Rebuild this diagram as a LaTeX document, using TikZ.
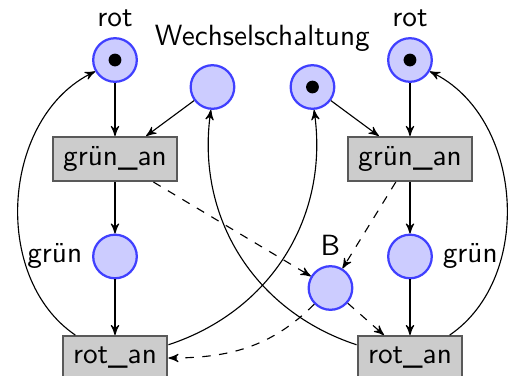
\documentclass[tikz,border=0pt]{standalone}
\usetikzlibrary{petri,arrows}
\tikzset{
  place/.style={circle,draw=blue!75,fill=blue!20,thick,minimum size=5.45mm,inner sep=0pt},
  transition/.style={rectangle,draw=black!65,fill=black!20,thick,minimum height=5.45mm,inner xsep=1.3mm},
  every token/.append style={minimum size=1.6mm}
}
\begin{document}
\begin{tikzpicture}[>=stealth',font=\fontsize{10.4pt}{12pt}\sffamily]
  \useasboundingbox (0,0) rectangle (6.425,-4.7);
  % Places
  \node[place,tokens=1,label=above:rot] (rotL) at (1.4375,-0.75) {};
  \node[place] (wsL) at (2.656,-1.0875) {};
  \node[place,tokens=1] (wsR) at (3.906,-1.0875) {};
  \node[place,tokens=1,label=above:rot] (rotR) at (5.125,-0.75) {};
  \node[anchor=base] (ws) at (3.28,-0.5625) {Wechselschaltung};
  \node[place,label=left:grün] (gL) at (1.4375,-3.206) {};
  \node[place,label=right:grün] (gR) at (5.125,-3.206) {};
  \node[place,label=above:B] (B) at (4.131,-3.6) {};
  % Transitions
  \node[transition] (gaL) at (1.4375,-1.9875) {grün\_an};
  \node[transition] (gaR) at (5.125,-1.9875) {grün\_an};
  \node[transition] (raL) at (1.4375,-4.475) {rot\_an};
  \node[transition] (raR) at (5.125,-4.475) {rot\_an};
  % Arcs
  \draw[->] (rotL) -- (gaL);
  \draw[->] (wsL) -- (gaL);
  \draw[->] (wsR) -- (gaR);
  \draw[->] (rotR) -- (gaR);
  \draw[->] (gaL) -- (gL);
  \draw[->] (gL) -- (raL);
  \draw[->] (gaR) -- (gR);
  \draw[->] (gR) -- (raR);
  \draw[->] (raL) to[bend left=60] (rotL);
  \draw[->] (raR) to[bend right=60] (rotR);
  \draw[->] (raL) to[bend right=40] (wsR);
  \draw[->] (raR) to[bend left=40] (wsL);
  % Arcs through B
  \draw[->,dashed] (gaL) -- (B);
  \draw[->,dashed] (gaR) -- (B);
  \draw[->,dashed] (B) -- (raR);
  \draw[->,dashed] (B) to[out=-135,in=0] (raL);
\end{tikzpicture}
\end{document}
